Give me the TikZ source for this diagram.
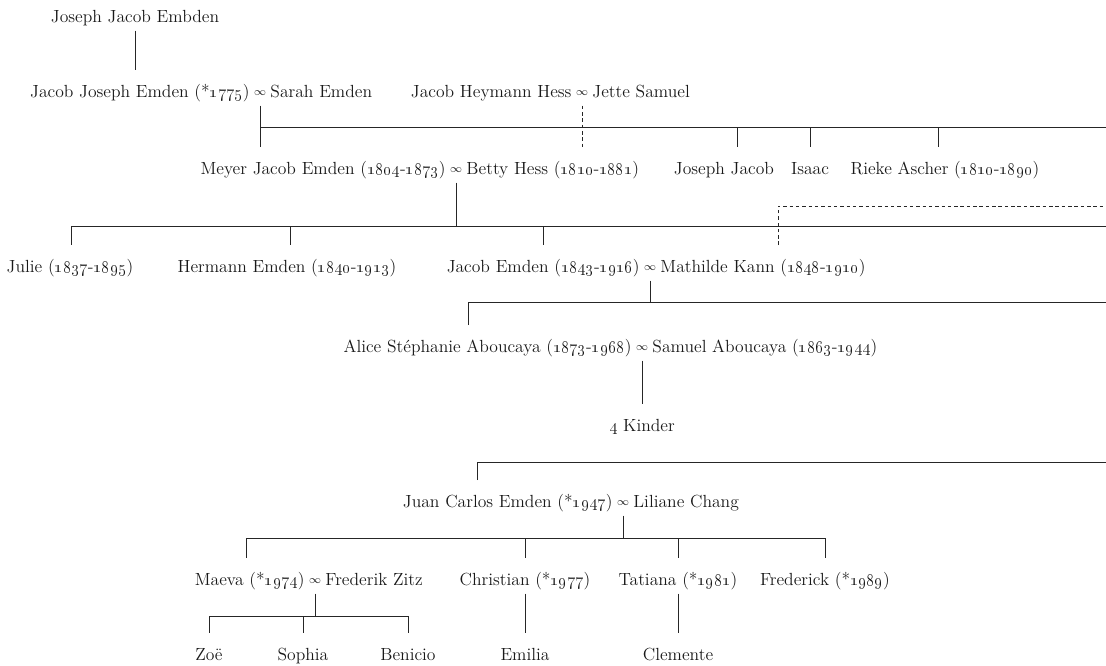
\documentclass[tikz,border=0pt]{standalone}
\usetikzlibrary{positioning}
\newcommand{\yrs}[2]{(\oldstylenums{#1}-\oldstylenums{#2})}
\newcommand{\born}[1]{(*\oldstylenums{#1})}
\newcommand{\wed}{\raisebox{0.9pt}{\fontsize{8.5}{8.5}\selectfont$\infty$}}

\begin{document}
\begin{tikzpicture}[x=0.025cm,y=-0.025cm,
    every node/.style={font=\fontsize{12.5}{15}\selectfont,text=black!90},
    pers/.style={anchor=base,inner xsep=0pt,inner ysep=0pt,text height=19pt,text depth=6pt},
    inf/.style={pers,inner xsep=2.8pt},
    famline/.style={line width=0.65pt,draw=black!85},
    hessline/.style={famline,dash pattern=on 2.5pt off 2pt}]
    \useasboundingbox (0,0) rectangle (1106,665);

    \coordinate (rim) at (1106,0);
    \coordinate (b2) at (0,127);
    \coordinate (b3) at (0,226);
    \coordinate (b3') at (0,206);
    \coordinate (b4) at (0,302);
    \coordinate (b6) at (0,462);
    \coordinate (b7) at (0,538);
    \coordinate (b8) at (0,616);

    \coordinate (dE) at (737,0);
    \coordinate (dG) at (938,0);
    \coordinate (dH) at (71,0);
    \coordinate (dI) at (290,0);
    \coordinate (dJ1) at (543,0);
    \coordinate (dJ2) at (778,0);
    \coordinate (dK1) at (468,0);
    \coordinate (dM1) at (477,0);
    \coordinate (dN1) at (246,0);

    % generation 1 and 2
    \node[pers] (A) at (135,22) {Joseph Jacob Embden};
    \node[inf] (B) at (260,97) {\wed};
    \node[pers,left=0pt of B] (B1) {Jacob Joseph Emden \born{1775}};
    \node[pers,right=0pt of B] (B2) {Sarah Emden};
    \node[inf] (C) at (582,97) {\wed};
    \node[pers,left=0pt of C] (C1) {Jacob Heymann Hess};
    \node[pers,right=0pt of C] (C2) {Jette Samuel};

    % generation 3
    \node[inf] (D) at (456,174) {\wed};
    \node[pers,left=0pt of D] (D1) {Meyer Jacob Emden \yrs{1804}{1873}};
    \node[pers,right=0pt of D] (D2) {Betty Hess \yrs{1810}{1881}};
    \node[pers] (E) at (724,174) {Joseph Jacob};
    \node[pers] (F) at (810,174) {Isaac};
    \node[pers] (G) at (945,174) {Rieke Ascher \yrs{1810}{1890}};

    % generation 4
    \node[pers] (H) at (70,272) {Julie \yrs{1837}{1895}};
    \node[pers] (I) at (287,272) {Hermann Emden \yrs{1840}{1913}};
    \node[inf] (J) at (650,272) {\wed};
    \node[pers,left=0pt of J] (J1) {Jacob Emden \yrs{1843}{1916}};
    \node[pers,right=0pt of J] (J2) {Mathilde Kann \yrs{1848}{1910}};

    % generation 5
    \node[inf] (K) at (642,352) {\wed};
    \node[pers,left=0pt of K] (K1) {Alice Stéphanie Aboucaya \yrs{1873}{1968}};
    \node[pers,right=0pt of K] (K2) {Samuel Aboucaya \yrs{1863}{1944}};
    \node[pers] (L) at (642,431) {\oldstylenums{4} Kinder};

    % generation 6
    \node[inf] (M) at (623,507) {\wed};
    \node[pers,left=0pt of M] (M1) {Juan Carlos Emden \born{1947}};
    \node[pers,right=0pt of M] (M2) {Liliane Chang};

    % generation 7
    \node[inf] (N) at (315,585) {\wed};
    \node[pers,left=0pt of N] (N1) {Maeva \born{1974}};
    \node[pers,right=0pt of N] (N2) {Frederik Zitz};
    \node[pers] (O) at (525,585) {Christian \born{1977}};
    \node[pers] (P) at (678,585) {Tatiana \born{1981}};
    \node[pers] (Q) at (825,585) {Frederick \born{1989}};

    % generation 8
    \node[pers] (R) at (209,660) {Zoë};
    \node[pers] (S) at (303,660) {Sophia};
    \node[pers] (T) at (408,660) {Benicio};
    \node[pers] (U) at (525,660) {Emilia};
    \node[pers] (V) at (678,660) {Clemente};

    % lines
    \draw[famline] (A.south) -- (A.south |- B1.north);

    \draw[famline] (B.south) -- (B.south |- D1.north);
    \draw[famline] (B.south |- b2) -- (rim |- b2);
    \draw[hessline] (C.south) -- (C.south |- D2.north);
    \foreach \d/\n in {dE/E,F/F,dG/G}
        \draw[famline] (\d |- b2) -- (\d |- \n.north);

    \draw[famline] (D.south) -- (D.south |- b3);
    \draw[famline] (dH |- b3) -- (rim |- b3);
    \foreach \d/\n in {dH/H,dI/I,dJ1/J1}
        \draw[famline] (\d |- b3) -- (\d |- \n.north);
    \draw[hessline] (dJ2 |- J2.north) |- (rim |- b3');

    \draw[famline] (J.south) -- (J.south |- b4);
    \draw[famline] (dK1 |- K1.north) |- (rim |- b4);

    \draw[famline] (K.south) -- (K.south |- L.north);

    \draw[famline] (dM1 |- M1.north) |- (rim |- b6);

    \draw[famline] (M.south) -- (M.south |- b7);
    \draw[famline] (dN1 |- b7) -- (Q.north |- b7);
    \foreach \d/\n in {dN1/N1,O/O,P/P,Q/Q}
        \draw[famline] (\d |- b7) -- (\d |- \n.north);

    \draw[famline] (N.south) -- (N.south |- b8);
    \draw[famline] (R.north |- b8) -- (T.north |- b8);
    \foreach \n in {R,S,T}
        \draw[famline] (\n.north |- b8) -- (\n.north);
    \draw[famline] (O.south) -- (U.north);
    \draw[famline] (P.south) -- (V.north);
\end{tikzpicture}
\end{document}
